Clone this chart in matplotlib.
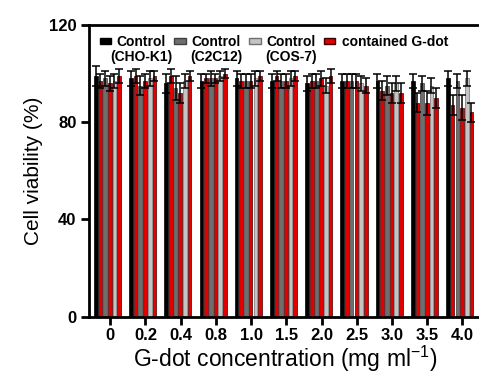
import matplotlib
matplotlib.use("Agg")
import matplotlib.pyplot as plt
import numpy as np
from matplotlib.patches import Patch

plt.rcParams["font.family"] = ["Liberation Sans", "DejaVu Sans"]
plt.rcParams["mathtext.fontset"] = "custom"
plt.rcParams["mathtext.rm"] = "Liberation Sans"

concentrations = ["0", "0.2", "0.4", "0.8", "1.0", "1.5", "2.0", "2.5", "3.0", "3.5", "4.0"]
legend_first = ["Control", "Control", "Control", "contained G-dot"]
legend_second = ["(CHO-K1)", "(C2C12)", "(COS-7)", ""]

cho_ctrl  = [99, 98, 96, 97, 98, 97, 96, 97, 97, 97, 98]
cho_gdot  = [97, 99, 99, 98, 97, 99, 97, 97, 93, 88, 87]
c2_ctrl   = [98, 95, 94, 98, 97, 97, 97, 97, 95, 96, 97]
c2_gdot   = [96, 97, 92, 98, 97, 97, 98, 97, 92, 88, 86]
cos_ctrl  = [97, 98, 97, 99, 98, 98, 95, 96, 96, 95, 98]
cos_gdot  = [99, 99, 99, 100, 99, 99, 99, 95, 92, 90, 84]

cho_ctrl_err = [4, 3, 4, 3, 3, 3, 3, 3, 3, 3, 3]
cho_gdot_err = [3, 3, 3, 2, 3, 2, 3, 3, 4, 4, 4]
c2_ctrl_err  = [3, 4, 5, 3, 3, 3, 3, 3, 4, 3, 3]
c2_gdot_err  = [3, 3, 4, 2, 3, 3, 3, 3, 4, 5, 5]
cos_ctrl_err = [3, 3, 3, 2, 3, 3, 3, 3, 3, 3, 3]
cos_gdot_err = [3, 2, 2, 2, 2, 2, 3, 3, 4, 4, 4]

fig = plt.figure(figsize=(4.79, 3.83), dpi=100)
ax = fig.add_axes([0.186, 0.173, 0.82, 0.762])

x = np.arange(len(concentrations))
w = 0.8 / 6
series = [
    (cho_ctrl, cho_ctrl_err, "#000000", "#000000"),
    (cho_gdot, cho_gdot_err, "#e00000", "#400000"),
    (c2_ctrl, c2_ctrl_err, "#6e6e6e", "#404040"),
    (c2_gdot, c2_gdot_err, "#e00000", "#400000"),
    (cos_ctrl, cos_ctrl_err, "#c4c4c4", "#707070"),
    (cos_gdot, cos_gdot_err, "#e00000", "#400000"),
]
for i, (vals, errs, fc, ec) in enumerate(series):
    pos = x - 0.4 + w * (i + 0.5) - 0.08
    ax.bar(pos, vals, width=w * 0.78, color=fc, edgecolor=ec, linewidth=0.5, zorder=2)
    ax.errorbar(pos, vals, yerr=errs, fmt="none", ecolor="black",
                elinewidth=1.1, capsize=3, capthick=1.1, zorder=3)

ax.set_xlim(-0.6, 10.55)
ax.set_ylim(0, 120)
ax.set_yticks([0, 40, 80, 120])
ax.set_yticklabels(["0", "40", "80", "120"], fontsize=12, fontweight="bold")
ax.set_xticks(x)
ax.set_xticklabels(concentrations, fontsize=12, fontweight="bold")
for s in ax.spines.values():
    s.set_linewidth(2)
ax.tick_params(axis="y", width=2, length=6, direction="out", pad=3)
ax.tick_params(axis="x", width=2, length=6, direction="out", pad=2)
ax.set_ylabel("Cell viability (%)", fontsize=15, labelpad=4)
ax.set_xlabel("G-dot concentration (mg ml$^{-1}$)", fontsize=16.5, labelpad=1)

handles = [
    Patch(facecolor="#000000", edgecolor="#000000"),
    Patch(facecolor="#6e6e6e", edgecolor="#404040"),
    Patch(facecolor="#c4c4c4", edgecolor="#707070"),
    Patch(facecolor="#e00000", edgecolor="#400000"),
]
leg = ax.legend(handles, legend_first, ncol=4, loc="upper left",
                bbox_to_anchor=(0.0, 1.0), frameon=False,
                prop={"weight": "bold", "size": 10},
                handlelength=0.8, handleheight=0.3, handletextpad=0.45,
                columnspacing=0.6, borderpad=0.4, borderaxespad=0.35)
leg.set_zorder(5)
fig.canvas.draw()
renderer = fig.canvas.get_renderer()
for t, extra in zip(leg.get_texts(), legend_second):
    if not extra:
        continue
    bb = t.get_window_extent(renderer)
    fx, fy = fig.transFigure.inverted().transform(((bb.x0 + bb.x1) / 2, bb.y0))
    fig.text(fx, fy - 0.002, extra, fontsize=10, fontweight="bold",
             ha="center", va="top", zorder=6)

fig.savefig("out.png", dpi=100)
